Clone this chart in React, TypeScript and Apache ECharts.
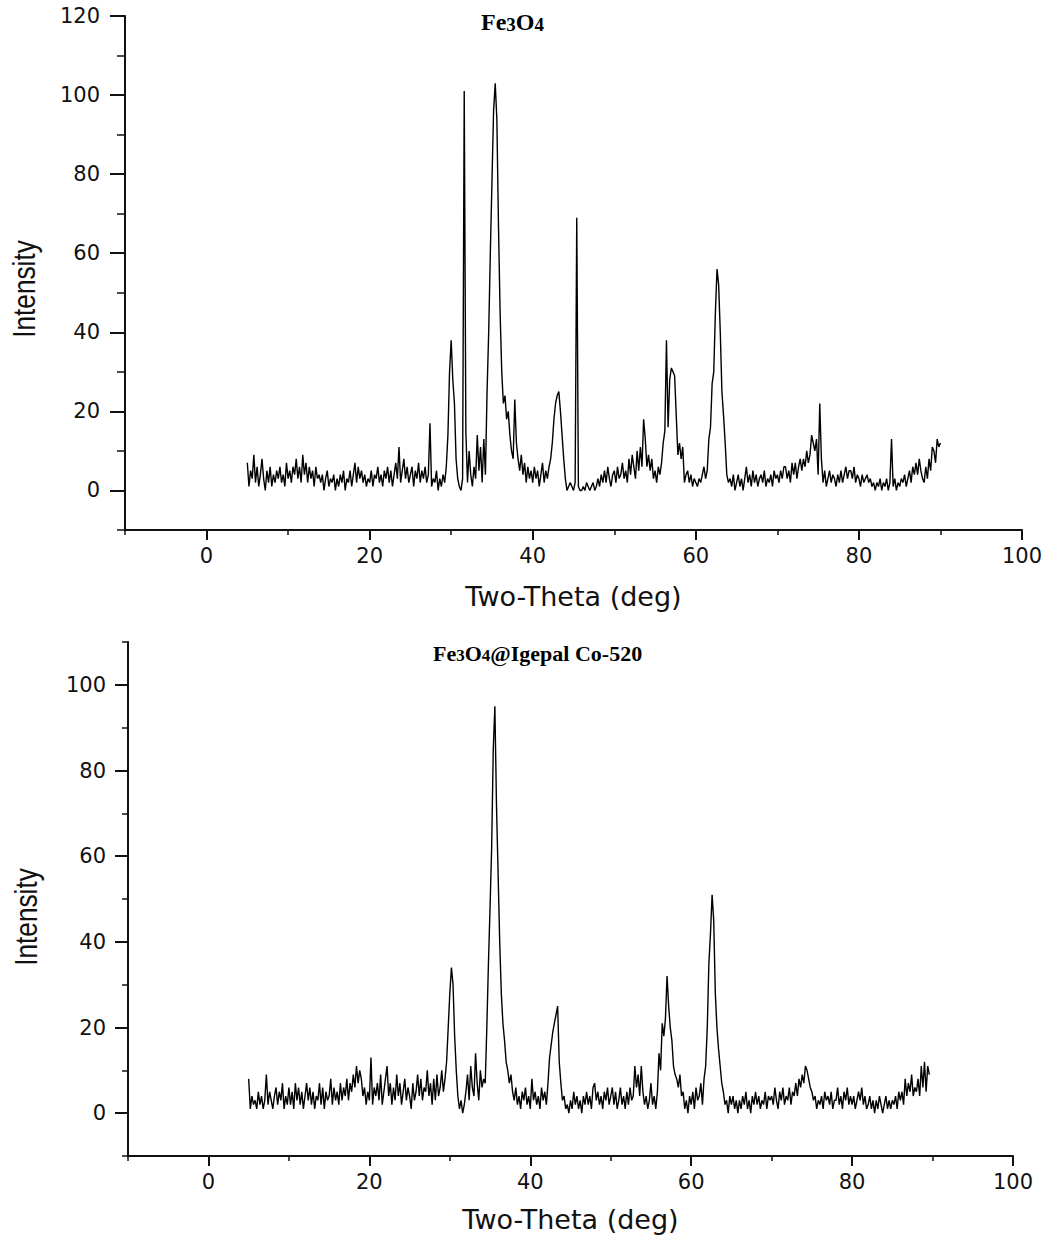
import React, { useEffect, useRef } from "react";
import * as echarts from "echarts";

// Two-theta grid of the digitised patterns (deg)
const twoThetaStart = 5;
const twoThetaStep = 0.2;

// Fe3O4 intensities, 5.0 .. 90.0 deg, 5 values per degree
const fe3o4Intensity = [
  7, 1, 5, 3, 9, // 5
  2, 6, 1, 4, 8, // 6
  3, 0, 5, 2, 6, // 7
  1, 4, 2, 5, 3, // 8
  6, 2, 4, 1, 7, // 9
  3, 5, 2, 6, 4, // 10
  8, 3, 6, 2, 9, // 11
  4, 7, 2, 6, 3, // 12
  5, 1, 6, 3, 4, // 13
  2, 4, 0, 3, 5, // 14
  1, 3, 2, 4, 0, // 15
  3, 1, 4, 2, 5, // 16
  0, 3, 2, 5, 1, // 17
  4, 7, 2, 6, 3, // 18
  5, 2, 4, 1, 3, // 19
  2, 5, 1, 4, 3, // 20
  6, 2, 4, 1, 5, // 21
  3, 6, 2, 5, 1, // 22
  4, 7, 3, 11, 2, // 23
  5, 8, 3, 6, 2, // 24
  4, 6, 1, 5, 3, // 25
  7, 2, 5, 3, 6, // 26
  2, 4, 17, 1, 3, // 27
  2, 5, 0, 3, 1, // 28
  4, 2, 6, 14, 30, // 29
  38, 28, 22, 8, 3, // 30
  1, 0, 3, 101, 15, // 31
  2, 10, 4, 1, 6, // 32
  3, 14, 5, 11, 2, // 33
  13, 4, 25, 40, 60, // 34
  78, 96, 103, 94, 67, // 35
  45, 30, 22, 24, 18, // 36
  20, 14, 10, 8, 23, // 37
  12, 8, 5, 9, 4, // 38
  7, 2, 6, 3, 5, // 39
  2, 6, 3, 5, 1, // 40
  4, 7, 2, 5, 3, // 41
  6, 8, 12, 18, 22, // 42
  24, 25, 20, 14, 8, // 43
  3, 0, 1, 2, 1, // 44
  0, 2, 69, 1, 0, // 45
  0, 1, 0, 2, 1, // 46
  0, 1, 2, 0, 1, // 47
  3, 1, 4, 2, 5, // 48
  2, 6, 3, 1, 4, // 49
  5, 2, 6, 3, 4, // 50
  7, 3, 5, 2, 8, // 51
  4, 9, 6, 3, 10, // 52
  5, 11, 6, 18, 13, // 53
  6, 9, 5, 8, 3, // 54
  5, 2, 6, 4, 7, // 55
  12, 15, 38, 16, 28, // 56
  31, 30, 29, 19, 9, // 57
  12, 8, 11, 2, 4, // 58
  5, 2, 4, 1, 3, // 59
  2, 1, 3, 2, 4, // 60
  6, 3, 5, 13, 16, // 61
  27, 30, 45, 56, 52, // 62
  40, 25, 19, 12, 4, // 63
  2, 3, 1, 4, 0, // 64
  2, 4, 1, 3, 0, // 65
  3, 6, 2, 4, 1, // 66
  5, 2, 4, 1, 3, // 67
  4, 2, 5, 1, 3, // 68
  2, 4, 1, 5, 3, // 69
  4, 2, 5, 3, 6, // 70
  6, 3, 5, 2, 7, // 71
  4, 7, 3, 6, 8, // 72
  5, 8, 6, 10, 7, // 73
  9, 14, 12, 10, 13, // 74
  4, 22, 8, 2, 5, // 75
  1, 3, 5, 2, 4, // 76
  3, 1, 4, 2, 5, // 77
  2, 4, 6, 3, 5, // 78
  5, 3, 6, 2, 4, // 79
  3, 1, 4, 2, 3, // 80
  4, 2, 3, 1, 2, // 81
  0, 2, 1, 3, 0, // 82
  2, 1, 3, 0, 2, // 83
  13, 1, 3, 0, 2, // 84
  1, 3, 2, 4, 1, // 85
  3, 5, 2, 6, 4, // 86
  7, 4, 8, 5, 3, // 87
  2, 6, 3, 8, 5, // 88
  11, 10, 7, 13, 11, // 89
  12, // 90
];

// Fe3O4@Igepal Co-520 intensities, 5.0 .. 89.6 deg
const igepalIntensity = [
  8, 1, 4, 2, 3, // 5
  1, 5, 2, 4, 1, // 6
  3, 9, 2, 5, 3, // 7
  1, 4, 6, 2, 5, // 8
  3, 7, 1, 4, 2, // 9
  6, 2, 5, 1, 7, // 10
  3, 6, 2, 5, 1, // 11
  4, 7, 3, 6, 2, // 12
  5, 1, 4, 3, 7, // 13
  2, 6, 1, 5, 3, // 14
  4, 8, 2, 6, 3, // 15
  5, 2, 7, 3, 6, // 16
  4, 8, 3, 7, 5, // 17
  9, 6, 11, 7, 10, // 18
  8, 4, 6, 2, 5, // 19
  3, 13, 2, 6, 4, // 20
  7, 3, 9, 2, 5, // 21
  8, 11, 4, 7, 2, // 22
  6, 3, 9, 4, 7, // 23
  2, 5, 8, 3, 6, // 24
  4, 1, 7, 3, 5, // 25
  9, 4, 8, 3, 6, // 26
  5, 10, 4, 7, 2, // 27
  8, 3, 9, 4, 6, // 28
  10, 5, 8, 12, 20, // 29
  28, 34, 30, 18, 10, // 30
  4, 1, 3, 0, 2, // 31
  5, 9, 3, 11, 6, // 32
  4, 14, 7, 3, 10, // 33
  6, 8, 7, 20, 35, // 34
  48, 62, 85, 95, 72, // 35
  56, 40, 28, 21, 17, // 36
  12, 10, 7, 9, 5, // 37
  3, 6, 2, 4, 1, // 38
  5, 3, 6, 2, 4, // 39
  1, 8, 3, 5, 2, // 40
  4, 1, 6, 3, 5, // 41
  2, 7, 13, 16, 19, // 42
  21, 23, 25, 12, 7, // 43
  3, 4, 1, 2, 0, // 44
  3, 1, 5, 2, 4, // 45
  1, 3, 0, 4, 2, // 46
  5, 2, 4, 1, 6, // 47
  7, 3, 5, 2, 4, // 48
  1, 5, 3, 6, 2, // 49
  4, 6, 2, 5, 1, // 50
  3, 6, 2, 4, 1, // 51
  5, 2, 6, 3, 4, // 52
  11, 6, 9, 4, 11, // 53
  5, 2, 4, 1, 3, // 54
  7, 2, 4, 1, 5, // 55
  14, 10, 21, 18, 22, // 56
  32, 25, 20, 17, 11, // 57
  9, 8, 6, 9, 4, // 58
  5, 1, 3, 0, 4, // 59
  2, 5, 1, 6, 3, // 60
  4, 7, 2, 8, 11, // 61
  20, 35, 42, 51, 45, // 62
  28, 20, 15, 11, 7, // 63
  5, 2, 3, 0, 4, // 64
  2, 4, 1, 3, 0, // 65
  3, 1, 4, 2, 5, // 66
  1, 3, 0, 4, 2, // 67
  5, 2, 4, 1, 3, // 68
  2, 5, 1, 4, 3, // 69
  4, 2, 6, 3, 1, // 70
  5, 3, 6, 2, 4, // 71
  3, 6, 2, 5, 4, // 72
  7, 4, 8, 6, 9, // 73
  7, 11, 10, 8, 6, // 74
  5, 3, 4, 1, 3, // 75
  2, 4, 1, 5, 3, // 76
  4, 2, 5, 1, 3, // 77
  3, 6, 2, 4, 1, // 78
  5, 3, 6, 2, 4, // 79
  2, 4, 1, 3, 5, // 80
  3, 6, 2, 4, 1, // 81
  2, 4, 1, 3, 0, // 82
  3, 1, 4, 2, 0, // 83
  2, 4, 1, 3, 1, // 84
  3, 2, 4, 1, 5, // 85
  3, 5, 2, 8, 4, // 86
  7, 5, 9, 4, 6, // 87
  5, 8, 4, 11, 6, // 88
  12, 5, 11, 9, // 89
];

// Axis ticks
const xMajorTicks = [0, 20, 40, 60, 80, 100];
const xMinorTicks = [-10, 10, 30, 50, 70, 90];
const topYMajorTicks = [0, 20, 40, 60, 80, 100, 120];
const topYMinorTicks = [-10, 10, 30, 50, 70, 90, 110];
const bottomYMajorTicks = [0, 20, 40, 60, 80, 100];
const bottomYMinorTicks = [-10, 10, 30, 50, 70, 90, 110];

const xRange = [-10, 100];
const topYRange = [-10, 120];
const bottomYRange = [-10, 110];

const axisFont = "'DejaVu Sans', 'Liberation Sans', Arial, sans-serif";
const serifFont = "'Liberation Serif', 'Times New Roman', serif";

function toPairs(values: number[]) {
  return values.map((v, i) => [
    Math.round((twoThetaStart + i * twoThetaStep) * 10) / 10,
    v,
  ]);
}

function mainXAxis(gridIndex: number, nameGap: number) {
  return {
    type: "value",
    gridIndex,
    min: xRange[0],
    max: xRange[1],
    position: "bottom",
    name: "Two-Theta (deg)",
    nameLocation: "middle",
    nameGap,
    nameTextStyle: { fontFamily: axisFont, fontSize: 27, color: "#111" },
    axisLine: { show: true, onZero: false, lineStyle: { color: "#111", width: 2 } },
    axisTick: {
      show: true,
      customValues: xMajorTicks,
      length: 10,
      lineStyle: { color: "#111", width: 2 },
    },
    axisLabel: {
      show: true,
      customValues: xMajorTicks,
      margin: 15,
      fontFamily: axisFont,
      fontSize: 21,
      color: "#111",
    },
    splitLine: { show: false },
  };
}

function minorXAxis(gridIndex: number) {
  return {
    type: "value",
    gridIndex,
    min: xRange[0],
    max: xRange[1],
    position: "bottom",
    axisLine: { show: false, onZero: false },
    axisTick: {
      show: true,
      customValues: xMinorTicks,
      length: 5,
      lineStyle: { color: "#111", width: 1.5 },
    },
    axisLabel: { show: false },
    splitLine: { show: false },
  };
}

function mainYAxis(gridIndex: number, range: number[], ticks: number[], margin: number, len: number) {
  return {
    type: "value",
    gridIndex,
    min: range[0],
    max: range[1],
    position: "left",
    axisLine: { show: true, onZero: false, lineStyle: { color: "#111", width: 2 } },
    axisTick: {
      show: true,
      customValues: ticks,
      length: len,
      lineStyle: { color: "#111", width: 2 },
    },
    axisLabel: {
      show: true,
      customValues: ticks,
      margin,
      fontFamily: axisFont,
      fontSize: 21,
      color: "#111",
    },
    splitLine: { show: false },
  };
}

function minorYAxis(gridIndex: number, range: number[], ticks: number[], len: number) {
  return {
    type: "value",
    gridIndex,
    min: range[0],
    max: range[1],
    position: "left",
    axisLine: { show: false, onZero: false },
    axisTick: {
      show: true,
      customValues: ticks,
      length: len,
      lineStyle: { color: "#111", width: 1.5 },
    },
    axisLabel: { show: false },
    splitLine: { show: false },
  };
}

const titleRich = (size: number) => ({
  n: {
    fontFamily: serifFont,
    fontWeight: "bold",
    fontSize: size,
    lineHeight: size + 2,
    verticalAlign: "bottom",
    color: "#000",
  },
  s: {
    fontFamily: serifFont,
    fontWeight: "bold",
    fontSize: Math.round(size * 0.78),
    lineHeight: Math.round(size * 0.45),
    verticalAlign: "bottom",
    color: "#000",
  },
});

const intensityLabel = (x: number, y: number) => ({
  type: "text",
  x,
  y,
  rotation: Math.PI / 2,
  scaleX: 0.82,
  style: {
    text: "Intensity",
    fontFamily: "'Liberation Sans', Arial, sans-serif",
    fontSize: 32,
    fill: "#111",
    align: "center",
    verticalAlign: "middle",
  },
});

export default function App() {
  const ref = useRef<HTMLDivElement>(null);

  useEffect(() => {
    if (!ref.current) return;
    const chart = echarts.init(ref.current, undefined, { renderer: "svg" });
    const option = {
      animation: false,
      backgroundColor: "#ffffff",
      title: [
        {
          text: "{n|Fe}{s|3}{n|O}{s|4}",
          left: 481,
          top: 8,
          padding: 0,
          textStyle: { rich: titleRich(24) },
        },
        {
          text: "{n|Fe}{s|3}{n|O}{s|4}{n|@Igepal Co-520}",
          left: 433,
          top: 640,
          padding: 0,
          textStyle: { rich: titleRich(22) },
        },
      ],
      grid: [
        { left: 125, top: 16, width: 897, height: 514, containLabel: false },
        { left: 128, top: 642, width: 885, height: 514, containLabel: false },
      ],
      xAxis: [mainXAxis(0, 53), minorXAxis(0), mainXAxis(1, 50), minorXAxis(1)],
      yAxis: [
        mainYAxis(0, topYRange, topYMajorTicks, 25, 15),
        minorYAxis(0, topYRange, topYMinorTicks, 8),
        mainYAxis(1, bottomYRange, bottomYMajorTicks, 22, 13),
        minorYAxis(1, bottomYRange, bottomYMinorTicks, 6),
      ],
      graphic: [intensityLabel(24, 289), intensityLabel(26, 917)],
      series: [
        {
          name: "Fe3O4",
          type: "line",
          xAxisIndex: 0,
          yAxisIndex: 0,
          data: toPairs(fe3o4Intensity),
          showSymbol: false,
          symbol: "none",
          lineStyle: { color: "#000", width: 1.4 },
        },
        {
          name: "Fe3O4@Igepal Co-520",
          type: "line",
          xAxisIndex: 2,
          yAxisIndex: 2,
          data: toPairs(igepalIntensity),
          showSymbol: false,
          symbol: "none",
          lineStyle: { color: "#000", width: 1.4 },
        },
      ],
    };
    chart.setOption(option as any);
    return () => chart.dispose();
  }, []);

  return (
    <div
      ref={ref}
      style={{ position: "absolute", left: 0, top: 0, width: 1049, height: 1240 }}
    />
  );
}
